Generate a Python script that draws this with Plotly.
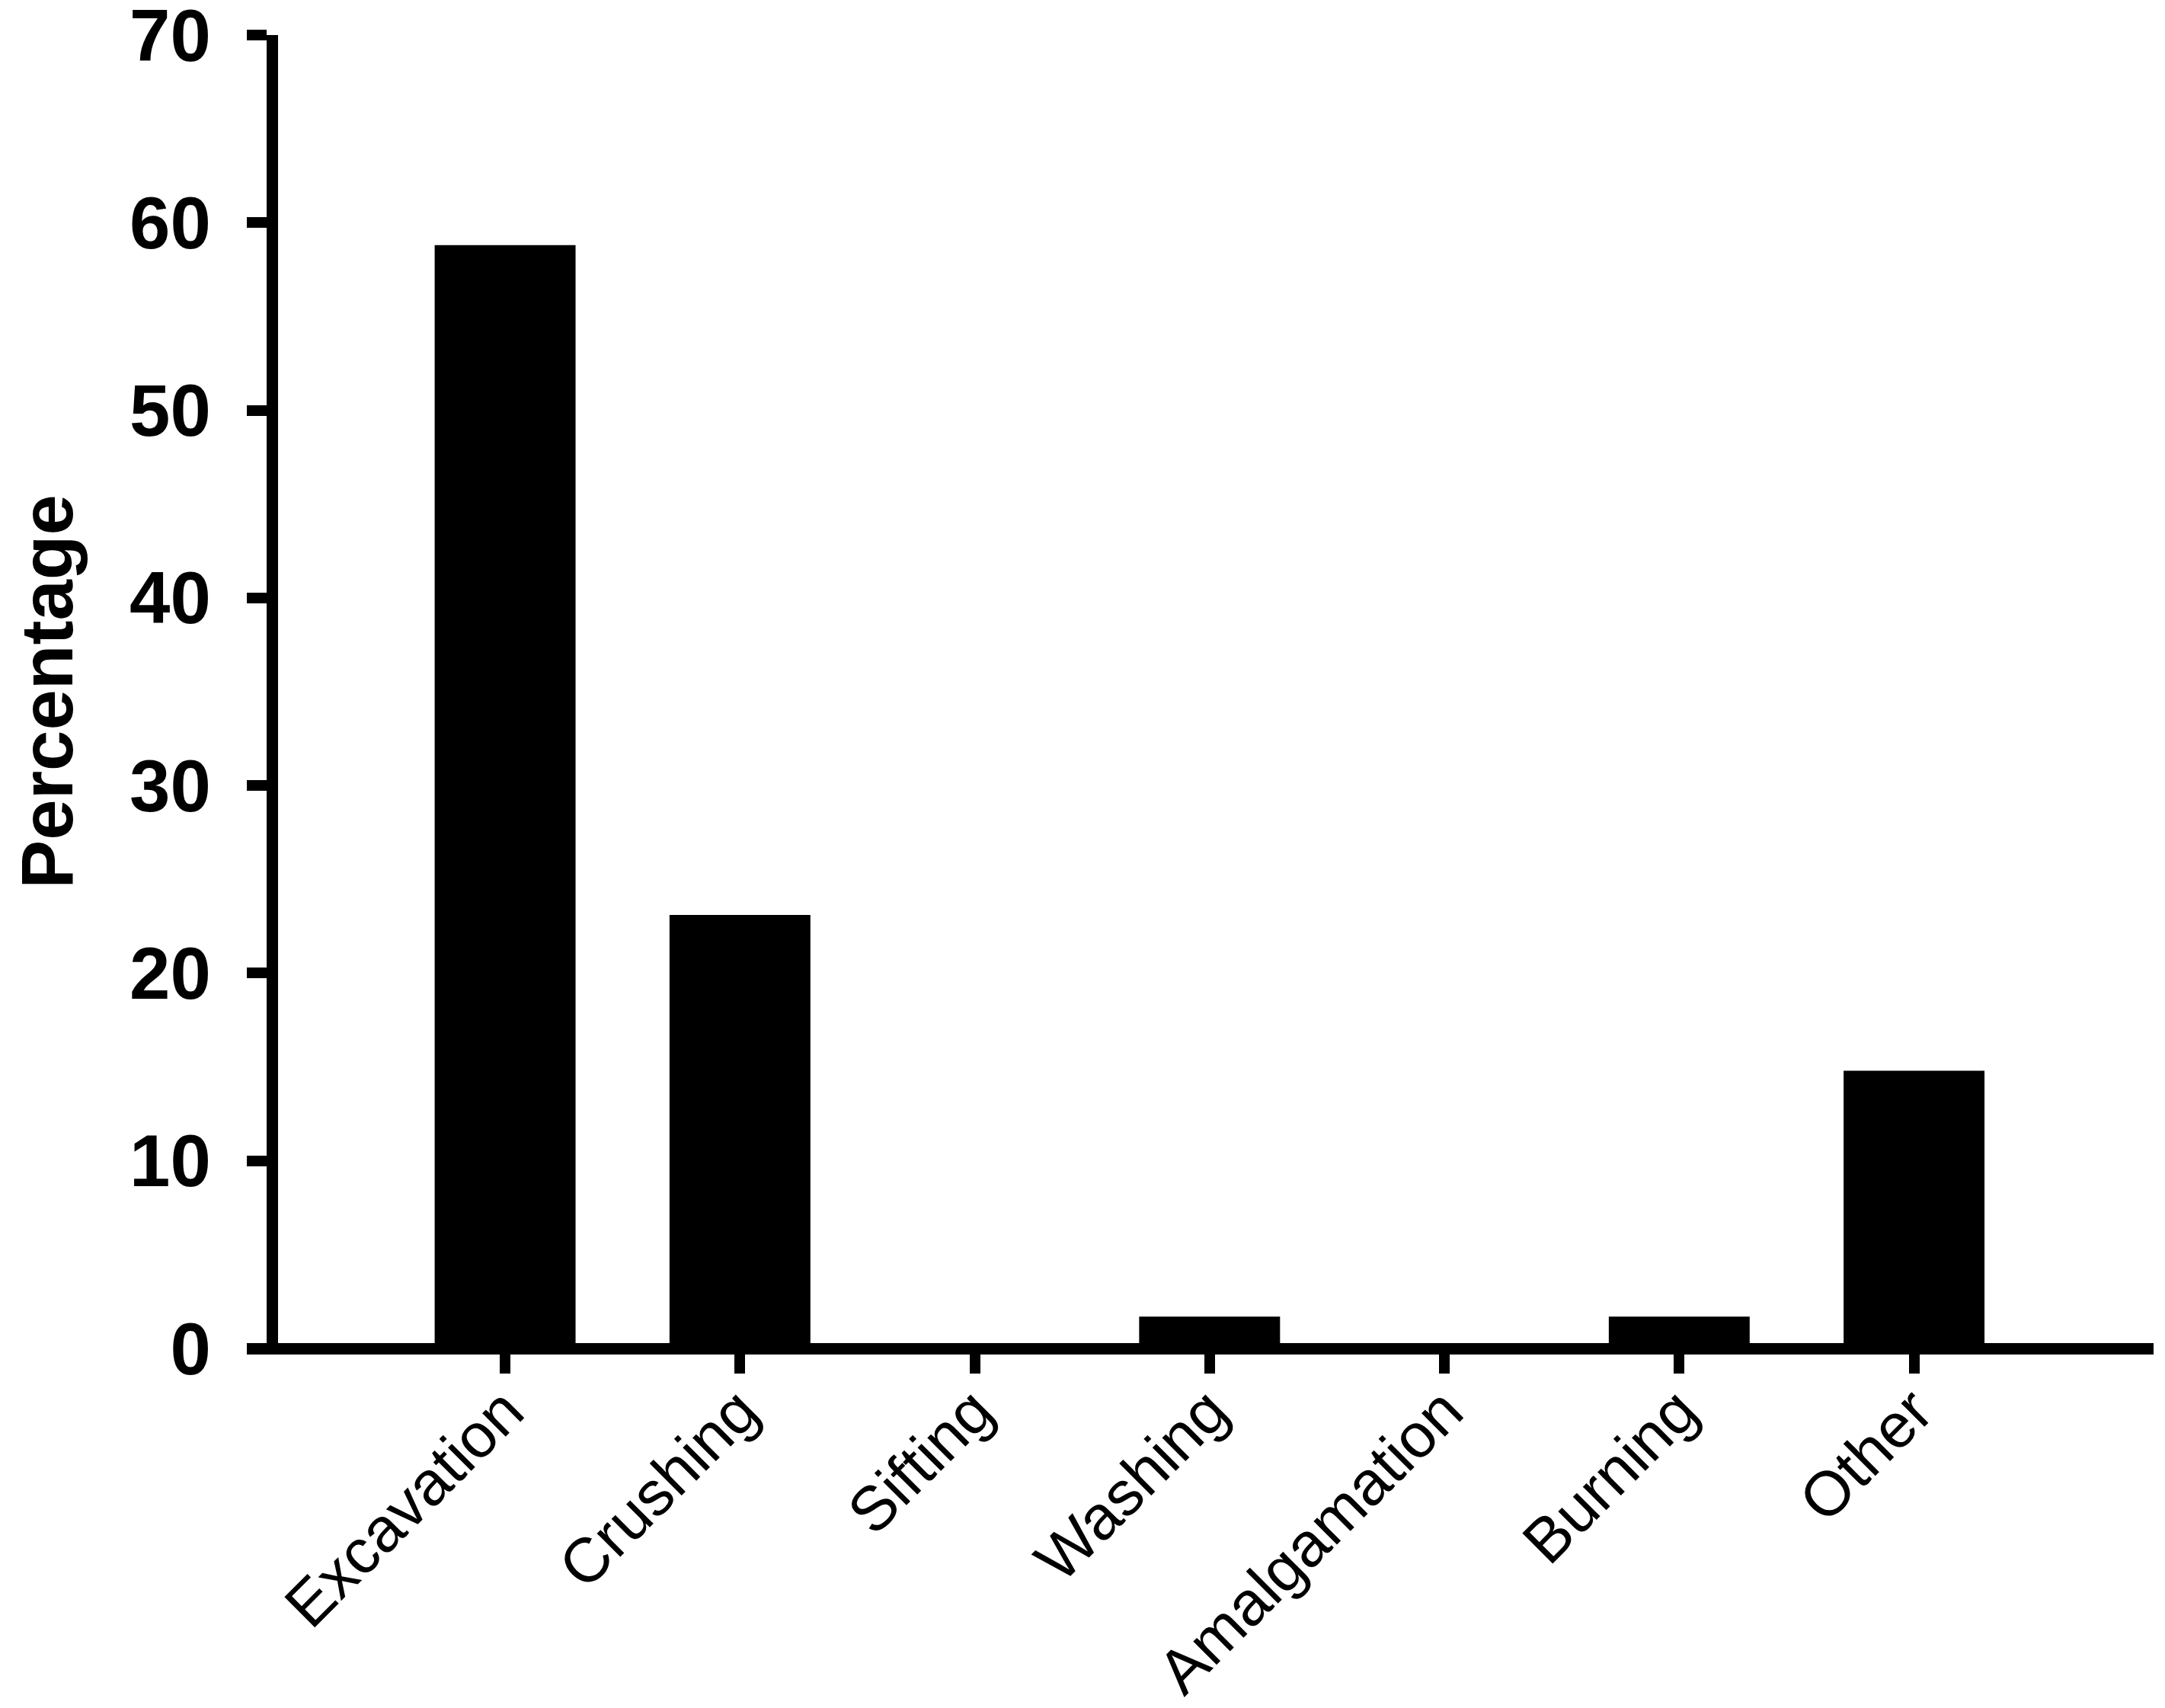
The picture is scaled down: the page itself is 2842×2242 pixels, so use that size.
import plotly.graph_objects as go

# datos
categorias = ["Excavation", "Crushing", "Sifting", "Washing", "Amalgamation", "Burning", "Other"]
porcentajes = [58.8, 23.1, 0, 1.7, 0, 1.7, 14.8]
marcas_y = [0, 10, 20, 30, 40, 50, 60, 70]

fuente = "Liberation Sans"

fig = go.Figure(go.Bar(x=categorias, y=porcentajes,
                       marker=dict(color="black", line=dict(width=0))))

# la pagina agrega 8 px de margen al body: la figura se achica 16 px para caber en la ventana
fig.update_layout(
    width=2826, height=2226,
    margin=dict(l=316, r=7, t=38, b=464, pad=0),
    plot_bgcolor="white", paper_bgcolor="white",
    bargap=0.4, showlegend=False,
    xaxis=dict(range=[-1.1, 7.02], automargin=False,
               showline=False, showgrid=False, zeroline=False,
               ticks="outside", ticklen=32, tickwidth=14, tickcolor="black",
               tickangle=-45, ticklabelstandoff=-32,
               tickfont=dict(family=fuente, size=82, color="black")),
    yaxis=dict(range=[0, 70], anchor="free", position=0.0132, automargin=False,
               showline=True, linewidth=15, linecolor="black",
               showgrid=False, zeroline=True, zerolinewidth=15, zerolinecolor="black",
               tickvals=marcas_y, ticks="outside", ticklen=26, tickwidth=14, tickcolor="black",
               ticklabelstandoff=28, ticklabeloverflow="allow",
               tickfont=dict(family=fuente, size=96, color="black", weight="bold"),
               title=dict(text="Percentage", standoff=84,
                          font=dict(family=fuente, size=96, color="black", weight="bold"))),
)

fig.write_html("out.html")
